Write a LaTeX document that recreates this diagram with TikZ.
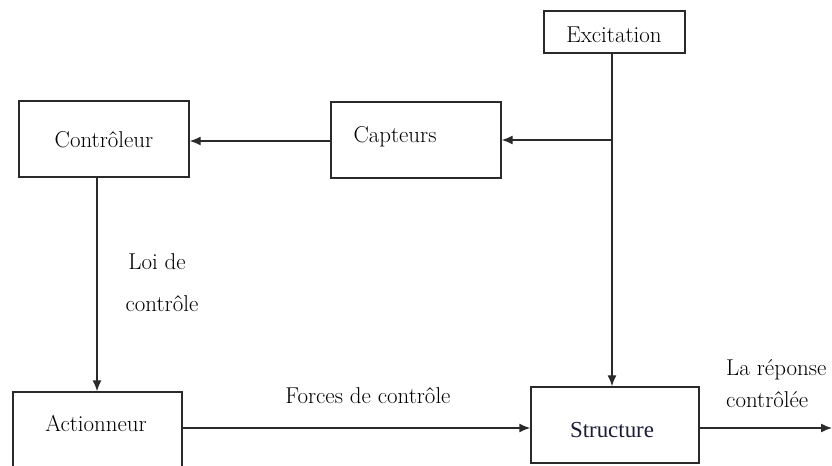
\documentclass[tikz,border=0pt]{standalone}
\usepackage{fontspec}
\newfontfamily\timesfont{Liberation Serif}
\usetikzlibrary{arrows.meta}
\definecolor{linegray}{HTML}{2A2A2A}
\definecolor{navyink}{HTML}{1C1C38}
\tikzset{
  blk/.style={draw=linegray, line width=1.4bp, inner sep=0pt},
  txt/.style={inner sep=0pt, font=\fontsize{23}{27}\selectfont},
  conn/.style={draw=linegray, line width=1.4bp, -{Latex[length=11bp,width=9bp]}},
  plain/.style={draw=linegray, line width=1.4bp}
}
\begin{document}
\begin{tikzpicture}[x=1bp,y=-1bp]
\useasboundingbox (0,0) rectangle (832,466);
\clip (0,0) rectangle (832,466);
% boxes
\node[blk, minimum width=141bp, minimum height=42bp] (exc) at (614.5,32) {};
\node[blk, minimum width=170bp, minimum height=76bp] (ctl) at (104,139) {};
\node[blk, minimum width=170bp, minimum height=76bp] (cap) at (416,140) {};
\node[blk, minimum width=169bp, minimum height=90bp] (act) at (97.5,437) {};
\node[blk, minimum width=168bp, minimum height=76bp] (str) at (615,425) {};
% texts
\node[txt] (excT) at (614,35) {Excitation};
\node[txt] (ctlT) at (104,140) {Contrôleur};
\node[txt] (capT) at (395,137) {Capteurs};
\node[txt] (actT) at (96,423) {Actionneur};
\node[inner sep=0pt, font=\timesfont\fontsize{23}{26}\selectfont, text=navyink] (strT) at (612,430) {Structure};
\node[txt] (loi1) at (157,262) {Loi de};
\node[txt] (loi2) at (162,304) {contrôle};
\node[txt] (frc) at (368,396) {Forces de contrôle};
\node[txt, anchor=west] (rep1) at (726,370) {La réponse};
\node[txt, anchor=west] (rep2) at (726,400) {contrôlée};
% connectors
\coordinate (j1) at (612,140);
\coordinate (out) at (832,428);
\draw[conn] (exc.south -| j1) -- (j1 |- str.north);
\draw[conn] (j1) -- (cap.east |- j1);
\draw[conn] (cap.west |- 0,141) -- (ctl.east |- 0,141);
\draw[conn] (ctl.south -| 97,0) -- (act.north -| 97,0);
\draw[conn] (act.east |- 0,428) -- (str.west |- 0,428);
\draw[conn] (str.east |- out) -- (out);
\end{tikzpicture}
\end{document}
